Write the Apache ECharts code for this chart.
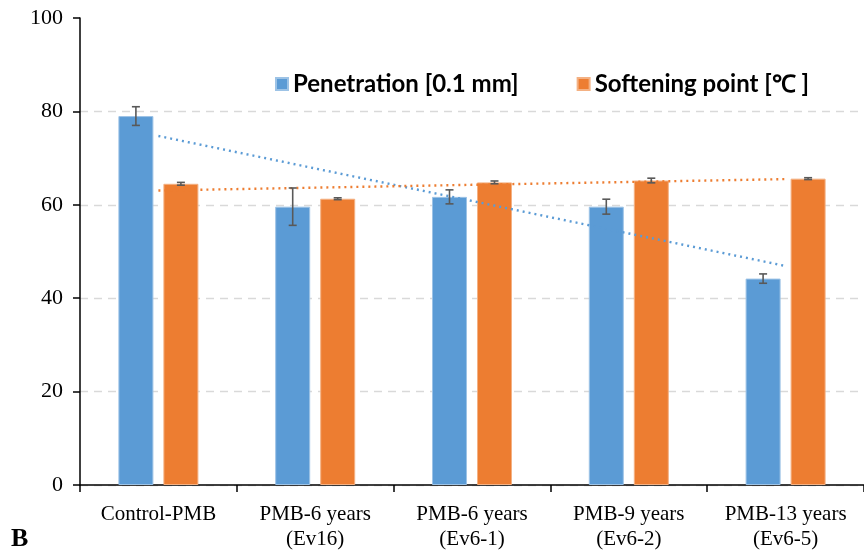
<!DOCTYPE html>
<html>
<head>
<meta charset="utf-8">
<script src="https://cdn.jsdelivr.net/npm/echarts@6/dist/echarts.min.js"></script>
<style>
  html, body { margin: 0; padding: 0; background: #fff; }
  #chart { width: 864px; height: 552px; }
</style>
</head>
<body>
<div id="chart"></div>
<script>
// Binder samples
const categories = ['Control-PMB', 'PMB-6 years\n(Ev16)', 'PMB-6 years\n(Ev6-1)', 'PMB-9 years\n(Ev6-2)', 'PMB-13 years\n(Ev6-5)'];
// Penetration [0.1 mm] mean and standard deviation
const penetration = [79.0, 59.6, 61.7, 59.6, 44.2];
const penetrationErr = [2.0, 4.0, 1.5, 1.6, 1.0];
// Softening point [°C] mean and standard deviation
const softening = [64.5, 61.3, 64.8, 65.2, 65.6];
const softeningErr = [0.3, 0.2, 0.3, 0.5, 0.2];
const yTicks = [0, 20, 40, 60, 80, 100];

const BLUE = '#5B9BD5';
const ORANGE = '#ED7D31';

// Least-squares linear trend over the category positions
function linearTrend(values) {
  const n = values.length;
  const xs = values.map((_, i) => i);
  const mx = xs.reduce((a, b) => a + b, 0) / n;
  const my = values.reduce((a, b) => a + b, 0) / n;
  let sxy = 0, sxx = 0;
  for (let i = 0; i < n; i++) { sxy += (xs[i] - mx) * (values[i] - my); sxx += (xs[i] - mx) ** 2; }
  const k = sxy / sxx;
  return xs.map(x => +(my + k * (x - mx)).toFixed(3));
}

// Error bar I-beams, offset to sit on each bar of the group
function errorSeries(values, errs, offsetPx) {
  return {
    type: 'custom',
    z: 5,
    silent: true,
    data: values.map((v, i) => [i, v - errs[i], v + errs[i]]),
    renderItem: function (params, api) {
      const lo = api.coord([api.value(0), api.value(1)]);
      const hi = api.coord([api.value(0), api.value(2)]);
      const x = lo[0] + offsetPx;
      const cap = 4;
      const style = { stroke: '#595959', lineWidth: 1.6 };
      return {
        type: 'group',
        children: [
          { type: 'line', shape: { x1: x, y1: lo[1], x2: x, y2: hi[1] }, style },
          { type: 'line', shape: { x1: x - cap, y1: lo[1], x2: x + cap, y2: lo[1] }, style },
          { type: 'line', shape: { x1: x - cap, y1: hi[1], x2: x + cap, y2: hi[1] }, style }
        ]
      };
    }
  };
}

const barWidth = 35;
const barGapPx = 10;
const half = (barWidth + barGapPx) / 2;

const chart = echarts.init(document.getElementById('chart'));
chart.setOption({
  animation: false,
  backgroundColor: '#fff',
  grid: { left: 80, top: 18, width: 790, bottom: 66 },
  legend: {
    data: ['Penetration [0.1 mm]', 'Softening point [℃ ]'],
    top: 67,
    left: 270,
    itemWidth: 12,
    itemHeight: 12,
    itemGap: 58,
    itemTextGap: 6,
    icon: 'rect',
    textStyle: { fontFamily: 'Lato', fontWeight: 'bold', fontSize: 24, color: '#000' }
  },
  xAxis: {
    type: 'category',
    data: categories,
    axisLine: { lineStyle: { color: '#000', width: 1.5 } },
    axisTick: { show: true, interval: 0, length: 7, lineStyle: { color: '#000', width: 1.5 } },
    axisLabel: { interval: 0, hideOverlap: false, fontFamily: 'Liberation Serif', fontSize: 21, color: '#000', margin: 17, lineHeight: 25 }
  },
  yAxis: {
    type: 'value',
    min: yTicks[0],
    max: yTicks[yTicks.length - 1],
    interval: 20,
    axisLine: { show: true, lineStyle: { color: '#000', width: 1.5 } },
    axisTick: { show: true, length: 7, lineStyle: { color: '#000', width: 1.5 } },
    axisLabel: { fontFamily: 'Liberation Serif', fontSize: 22, color: '#000', margin: 17 },
    splitLine: { show: true, showMaxLine: false, lineStyle: { color: '#D9D9D9', type: [8, 6], width: 1.3 } }
  },
  series: [
    {
      name: 'Penetration [0.1 mm]',
      type: 'bar',
      data: penetration,
      barWidth: barWidth,
      barGap: (barGapPx / barWidth * 100).toFixed(1) + '%',
      itemStyle: { color: BLUE, borderColor: '#9DC3E6', borderWidth: 1 }
    },
    {
      name: 'Softening point [℃ ]',
      type: 'bar',
      data: softening,
      barWidth: barWidth,
      itemStyle: { color: ORANGE, borderColor: '#F4B183', borderWidth: 1 }
    },
    errorSeries(penetration, penetrationErr, -half),
    errorSeries(softening, softeningErr, half),
    {
      name: 'Penetration trend',
      type: 'line',
      data: linearTrend(penetration),
      symbol: 'none',
      z: 4,
      lineStyle: { color: BLUE, width: 2.4, type: [2, 4] }
    },
    {
      name: 'Softening trend',
      type: 'line',
      data: linearTrend(softening),
      symbol: 'none',
      z: 4,
      lineStyle: { color: ORANGE, width: 2.4, type: [2, 4] }
    }
  ],
  graphic: [
    {
      type: 'text',
      left: 11,
      top: 526,
      style: { text: 'B', fontFamily: 'Liberation Serif', fontWeight: 'bold', fontSize: 26, fill: '#000' }
    }
  ]
});
</script>
</body>
</html>
